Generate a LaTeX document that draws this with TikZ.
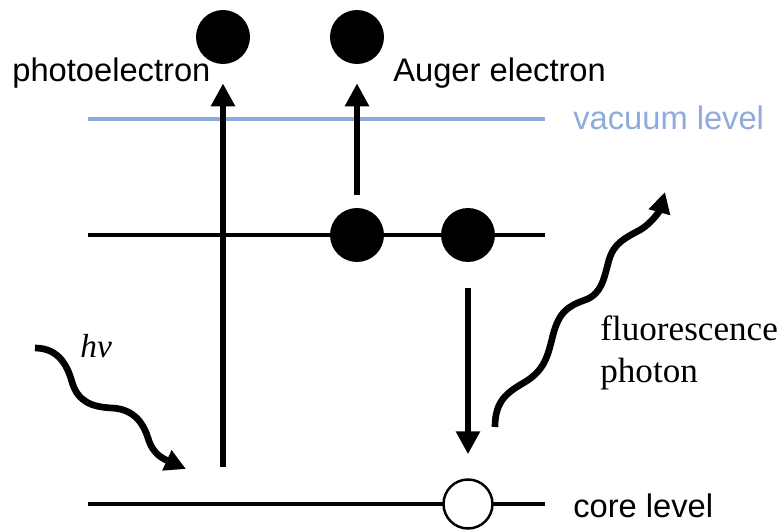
\documentclass[tikz,border=0pt]{standalone}
\usepackage{fontspec}
\setmainfont{Liberation Sans}
\newfontfamily\serifface{Liberation Serif}
\usetikzlibrary{arrows.meta}
\definecolor{vaclevel}{RGB}{143,170,220}

\begin{document}
\begin{tikzpicture}[x=0.02cm, y=-0.02cm,
        level/.style={line width=2.3pt},
        electron/.style={circle, fill=black, minimum size=1.08cm, inner sep=0pt},
        hole/.style={circle, draw=black, fill=white, line width=1.4pt, minimum size=0.98cm, inner sep=0pt},
        arr/.style={line width=3.6pt, -{Triangle[length=0.46cm, width=0.46cm]}},
        wave/.style={line width=3.8pt, -{Triangle[length=0.42cm, width=0.42cm]}},
        lbl/.style={inner sep=0pt, anchor=base west, font=\fontsize{18.6}{22}\selectfont},
        serlbl/.style={inner sep=0pt, anchor=base west, font=\serifface\fontsize{20}{24}\selectfont}]
        % --- SETTINGS ---
        \def\lvlL{88}
        \def\lvlR{545}
        \useasboundingbox (0,0) rectangle (779,531);

        % =========================================
        % ENERGY LEVELS
        % =========================================
        \draw[level, vaclevel] (\lvlL, 119) -- (\lvlR, 119);
        \draw[level] (\lvlL, 235) -- (\lvlR, 235);
        \draw[level] (\lvlL, 504) -- (\lvlR, 504);

        \node[lbl, text=vaclevel] (vaclbl) at (573, 129) {vacuum level};
        \node[lbl] (corelbl) at (573, 517) {core level};

        % =========================================
        % ELECTRONS AND HOLE
        % =========================================
        \node[electron] (pe) at (223, 37) {};
        \node[electron] (ae) at (357, 37) {};
        \node[electron] (m1) at (357, 235) {};
        \node[electron] (m2) at (468, 235) {};
        \node[hole] (ch) at (468, 504) {};

        \node[lbl] (pelbl) at (12, 81) {photoelectron};
        \node[lbl] (aelbl) at (393, 81) {Auger electron};

        % =========================================
        % TRANSITIONS
        % =========================================
        \coordinate (phstart) at (223, 467);
        \draw[arr, shorten >=0.38cm] (phstart) -- (pe.south);
        \draw[arr, shorten <=0.26cm, shorten >=0.38cm] (m1.north) -- (ae.south);
        \draw[arr, shorten <=0.52cm, shorten >=0.48cm] (m2.south) -- (ch.north);

        % Incoming photon
        \coordinate (hvstart) at (35, 348);
        \coordinate (hvend) at (186, 469);
        \draw[wave] (hvstart)
            .. controls (60, 348) and (68, 368) .. (72, 382)
            .. controls (78, 402) and (92, 407) .. (112, 408)
            .. controls (135, 409) and (144, 425) .. (148, 438)
            .. controls (153, 455) and (164, 459) .. (hvend);
        \node[serlbl, font=\serifface\itshape\fontsize{19}{22}\selectfont] (hvlbl) at (80, 357) {hν};

        % Fluorescence photon
        \coordinate (flstart) at (495, 427);
        \coordinate (flend) at (665, 192);
        \draw[wave] (flstart)
            .. controls (495, 400) and (508, 392) .. (525, 382)
            .. controls (545, 370) and (548, 355) .. (553, 335)
            .. controls (559, 312) and (568, 306) .. (585, 300)
            .. controls (602, 294) and (604, 278) .. (609, 260)
            .. controls (614, 243) and (625, 238) .. (640, 230)
            .. controls (652, 223) and (660, 210) .. (flend);
        \node[serlbl] (fllbl) at (600, 340) {fluorescence};
        \node[serlbl] (phlbl) at (600, 382) {photon};
    \end{tikzpicture}
\end{document}
